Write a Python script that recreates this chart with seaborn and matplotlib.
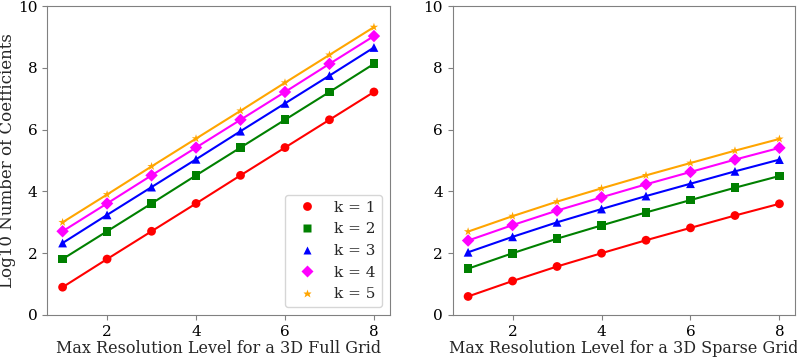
import matplotlib
matplotlib.use("Agg")
import matplotlib.pyplot as plt
import numpy as np
import pandas as pd
import seaborn as sns

levels = [1, 2, 3, 4, 5, 6, 7, 8]
k_labels = ["k = 1", "k = 2", "k = 3", "k = 4", "k = 5"]

full_grid = {
    "k = 1": [0.90, 1.81, 2.71, 3.61, 4.52, 5.42, 6.32, 7.22],
    "k = 2": [1.81, 2.71, 3.61, 4.52, 5.42, 6.32, 7.22, 8.13],
    "k = 3": [2.33, 3.24, 4.14, 5.04, 5.95, 6.85, 7.75, 8.66],
    "k = 4": [2.71, 3.61, 4.52, 5.42, 6.32, 7.22, 8.13, 9.03],
    "k = 5": [3.00, 3.90, 4.81, 5.71, 6.61, 7.52, 8.42, 9.32],
}
sparse_grid = {
    "k = 1": [0.60, 1.10, 1.57, 2.00, 2.42, 2.82, 3.22, 3.60],
    "k = 2": [1.50, 2.00, 2.47, 2.90, 3.32, 3.72, 4.12, 4.50],
    "k = 3": [2.03, 2.53, 3.00, 3.43, 3.85, 4.25, 4.65, 5.03],
    "k = 4": [2.41, 2.91, 3.38, 3.81, 4.23, 4.63, 5.03, 5.41],
    "k = 5": [2.70, 3.20, 3.67, 4.10, 4.52, 4.92, 5.32, 5.70],
}

colors = ["red", "green", "blue", "magenta", "orange"]
markers = ["o", "s", "^", "D", "*"]


def to_long(data):
    rows = []
    for k in k_labels:
        for lvl, v in zip(levels, data[k]):
            rows.append({"level": lvl, "value": v, "k": k})
    return pd.DataFrame(rows)


sns.set_style("ticks")
plt.rcParams["font.family"] = ["DejaVu Serif"]
plt.rcParams["axes.edgecolor"] = "#808080"
plt.rcParams["xtick.color"] = "#808080"
plt.rcParams["ytick.color"] = "#808080"
plt.rcParams["xtick.labelcolor"] = "black"
plt.rcParams["ytick.labelcolor"] = "black"

fig, axes = plt.subplots(1, 2, figsize=(7.97, 3.59), dpi=100)
fig.subplots_adjust(left=0.059, right=0.9975, bottom=0.1226, top=0.983, wspace=0.184)

panels = [
    (axes[0], full_grid, "Max Resolution Level for a 3D Full Grid"),
    (axes[1], sparse_grid, "Max Resolution Level for a 3D Sparse Grid"),
]
palette = dict(zip(k_labels, colors))
marker_map = dict(zip(k_labels, markers))

for i, (ax, data, xlabel) in enumerate(panels):
    df = to_long(data)
    sns.lineplot(data=df, x="level", y="value", hue="k", palette=palette,
                 legend=False, ax=ax, linewidth=1.5)
    sns.scatterplot(data=df, x="level", y="value", hue="k", style="k",
                    palette=palette, markers=marker_map, s=40, edgecolor="none",
                    legend=(i == 0), ax=ax, zorder=3)
    ax.set_ylim(0, 10)
    ax.set_xlim(0.65, 8.35)
    ax.set_xticks([2, 4, 6, 8])
    ax.set_yticks([0, 2, 4, 6, 8, 10])
    ax.set_xlabel(xlabel, fontsize=11.5, labelpad=1)
    ax.tick_params(labelsize=11)
    if i == 0:
        ax.set_ylabel("Log10 Number of Coefficients", fontsize=12)
        ax.yaxis.set_label_coords(-0.092, 0.5)
        ax.legend(loc="lower right", fontsize=11, markerscale=1.0)
    else:
        ax.set_ylabel("")

fig.savefig("out.png", dpi=100)
